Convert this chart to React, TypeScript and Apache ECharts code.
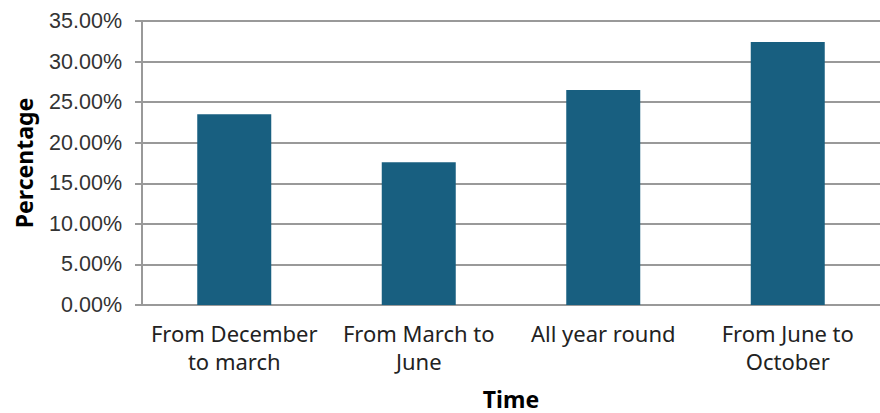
import React, { useEffect, useRef } from "react";
import * as echarts from "echarts";

const categories = [
  "From December\nto march",
  "From March to\nJune",
  "All year round",
  "From June to\nOctober",
];
const percentages = [23.5, 17.6, 26.5, 32.4];
const yMin = 0;
const yMax = 35;
const yInterval = 5;

export default function App() {
  const ref = useRef<HTMLDivElement>(null);
  useEffect(() => {
    if (!ref.current) return;
    const chart = echarts.init(ref.current, null, { renderer: "svg" });
    chart.setOption({
      animation: false,
      backgroundColor: "#ffffff",
      grid: { left: 142, right: 0, top: 21, bottom: 108, outerBoundsMode: "none", containLabel: false },
      xAxis: {
        type: "category",
        data: categories,
        name: "Time",
        nameLocation: "middle",
        nameGap: 82,
        nameTextStyle: { fontFamily: "Noto Sans", fontWeight: "bold", fontSize: 23, color: "#000" },
        axisLine: { show: true, lineStyle: { color: "#999", width: 2 } },
        axisTick: { show: false },
        axisLabel: {
          interval: 0,
          fontFamily: "Noto Sans",
          fontSize: 22,
          color: "#222",
          lineHeight: 28,
          margin: 14,
          verticalAlign: "top",
        },
      },
      yAxis: {
        type: "value",
        min: yMin,
        max: yMax,
        interval: yInterval,
        name: "Percentage",
        nameLocation: "middle",
        nameGap: 107,
        nameTextStyle: { fontFamily: "Noto Sans", fontWeight: "bold", fontSize: 23, color: "#000" },
        axisLine: { show: true, lineStyle: { color: "#999", width: 2 } },
        axisTick: { show: true, length: 7, lineStyle: { color: "#999", width: 2 } },
        splitLine: { show: true, lineStyle: { color: "#999", width: 2 } },
        axisLabel: {
          fontFamily: "Liberation Sans",
          fontSize: 21.5,
          color: "#333",
          margin: 20,
          formatter: (v: number) => v.toFixed(2) + "%",
        },
      },
      series: [
        {
          type: "bar",
          data: percentages,
          barWidth: 74,
          itemStyle: { color: "#185f80" },
        },
      ],
    });
    return () => chart.dispose();
  }, []);
  return (
    <div
      ref={ref}
      style={{ position: "fixed", left: 0, top: 0, width: 880, height: 413 }}
    />
  );
}
